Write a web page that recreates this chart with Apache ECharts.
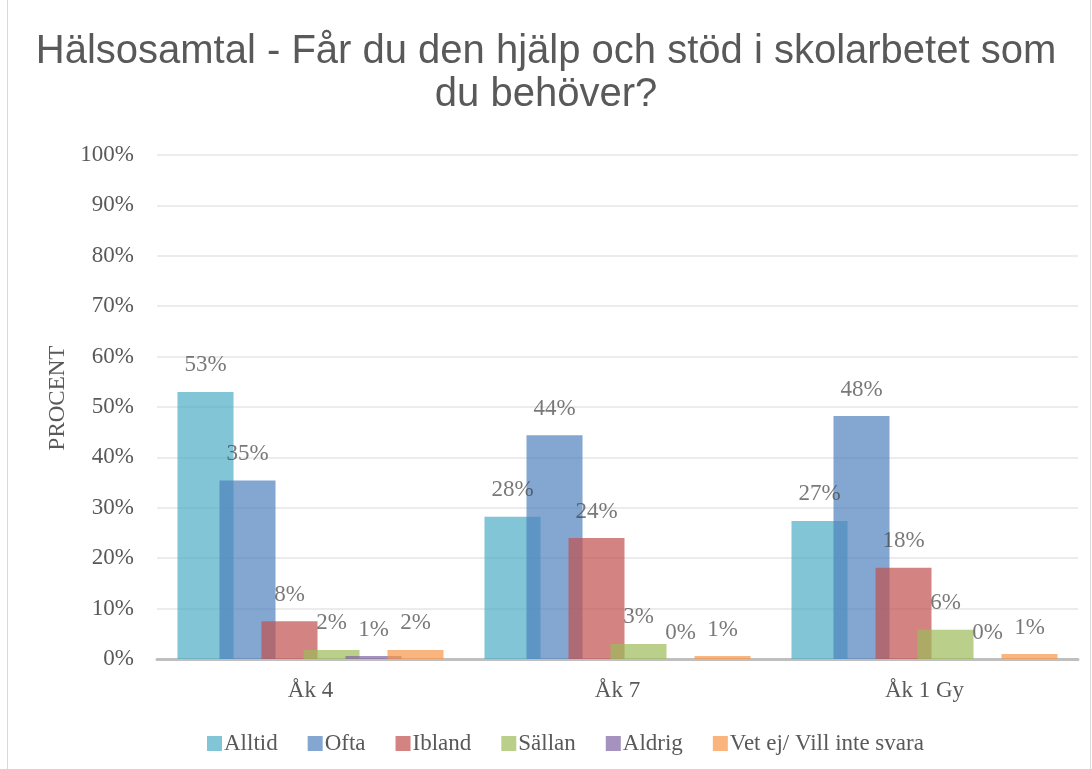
<!DOCTYPE html>
<html>
<head>
<meta charset="utf-8">
<script src="https://cdn.jsdelivr.net/npm/echarts@6/dist/echarts.min.js"></script>
<style>
  html, body { margin: 0; padding: 0; background: #fff; }
  #frame { position: absolute; left: 7px; top: -2px; width: 1084px; height: 772px; border: 1.5px solid #d9d9d9; box-sizing: border-box; }
  #chart { position: absolute; left: 0; top: 0; width: 1092px; height: 769px; }
</style>
</head>
<body>
<div id="frame"></div>
<div id="chart"></div>
<script>
// kategorier och svar (procent)
var categories = ['Åk 4', 'Åk 7', 'Åk 1 Gy'];
var seriesNames = ['Alltid', 'Ofta', 'Ibland', 'Sällan', 'Aldrig', 'Vet ej/ Vill inte svara'];
var alltid = [53, 28.2, 27.4];
var ofta = [35.4, 44.4, 48.2];
var ibland = [7.5, 24.0, 18.1];
var sallan = [1.8, 3.0, 5.8];
var aldrig = [0.6, 0, 0];
var vetEj = [1.8, 0.6, 1.0];
var yTicks = [0, 10, 20, 30, 40, 50, 60, 70, 80, 90, 100];

var colors = ['#4BACC6', '#4F81BD', '#C0504D', '#9BBB59', '#8064A2', '#F79646'];
var allData = [alltid, ofta, ibland, sallan, aldrig, vetEj];
var serif = 'Liberation Serif';

var myChart = echarts.init(document.getElementById('chart'));

var series = seriesNames.map(function (name, i) {
  return {
    name: name,
    type: 'bar',
    data: allData[i],
    barWidth: 56,
    barGap: '-25%',
    itemStyle: { color: colors[i], opacity: 0.7 },
    label: {
      show: true,
      position: 'top',
      distance: 15,
      fontFamily: serif,
      fontSize: 23,
      color: '#404040',
      formatter: function (p) { return Math.round(p.value) + '%'; }
    }
  };
});

myChart.setOption({
  animation: false,
  color: colors,
  title: {
    text: 'Hälsosamtal - Får du den hjälp och stöd i skolarbetet som\ndu behöver?',
    left: 'center',
    top: 25,
    textStyle: {
      fontFamily: 'Liberation Sans',
      fontSize: 40,
      fontWeight: 'normal',
      color: '#595959',
      lineHeight: 43
    }
  },
  legend: {
    bottom: 9,
    left: 202,
    itemWidth: 15,
    itemHeight: 15,
    itemGap: 30,
    icon: 'rect',
    textStyle: { fontFamily: serif, fontSize: 23, color: '#595959', padding: [0, 0, 0, -3] },
    data: seriesNames.map(function (n, i) {
      return { name: n, itemStyle: { color: colors[i], opacity: 0.7 } };
    })
  },
  grid: { left: 157, right: 14, top: 155, bottom: 110 },
  xAxis: {
    type: 'category',
    data: categories,
    axisLine: { lineStyle: { color: '#bfbfbf', width: 3 } },
    axisTick: { show: false },
    axisLabel: { fontFamily: serif, fontSize: 23, color: '#595959', margin: 20 }
  },
  yAxis: {
    type: 'value',
    min: yTicks[0],
    max: yTicks[yTicks.length - 1],
    interval: 10,
    name: 'PROCENT',
    nameLocation: 'middle',
    nameGap: 85,
    nameRotate: 90,
    nameTextStyle: { fontFamily: serif, fontSize: 23, color: '#595959', padding: [0, 0, 0, 18] },
    axisLine: { show: false },
    axisTick: { show: false },
    axisLabel: {
      fontFamily: serif, fontSize: 23, color: '#595959', margin: 23,
      formatter: function (v) { return v + '%'; }
    },
    splitLine: { lineStyle: { color: '#ececec', width: 2 } }
  },
  series: series
});
</script>
</body>
</html>
